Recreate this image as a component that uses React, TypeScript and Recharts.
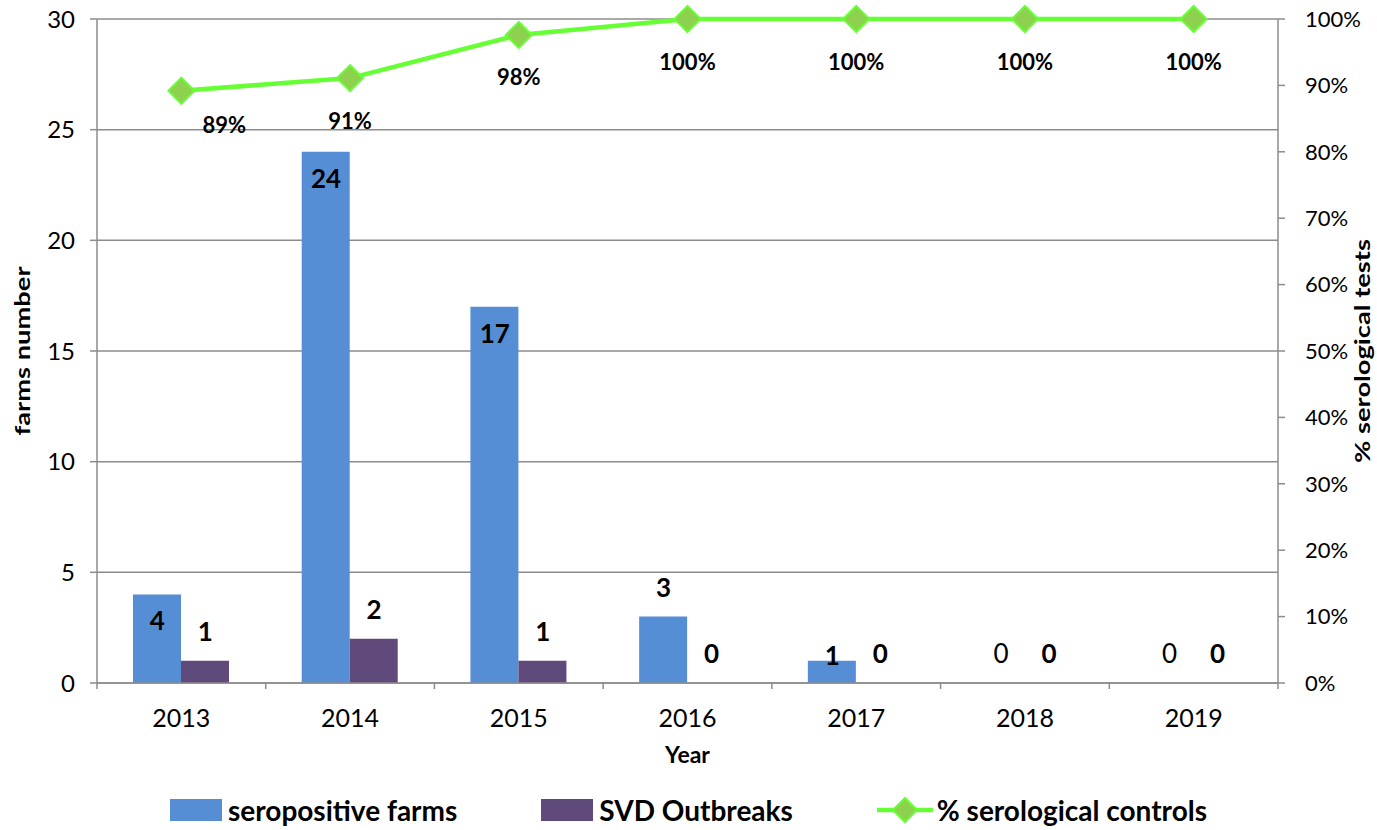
import React from 'react';
import {
  ComposedChart,
  Bar,
  Line,
  XAxis,
  YAxis,
  CartesianGrid,
  Legend,
  LabelList,
} from 'recharts';

const years = ['2013', '2014', '2015', '2016', '2017', '2018', '2019'];
const seropositiveFarms = [4, 24, 17, 3, 1, 0, 0];
const svdOutbreaks = [1, 2, 1, 0, 0, 0, 0];
const serologicalControls = [89.2, 91.1, 97.6, 100, 100, 100, 100];
const leftTicks = [0, 5, 10, 15, 20, 25, 30];
const rightTicks = [0, 10, 20, 30, 40, 50, 60, 70, 80, 90, 100];

const data = years.map((year, i) => ({
  year,
  farms: seropositiveFarms[i],
  svd: svdOutbreaks[i],
  pct: serologicalControls[i],
}));

const FONT = 'Lato, "Open Sans", sans-serif';
const BLUE = '#558ED5';
const PURPLE = '#604A7B';
const GREEN = '#66FF33';
const DIAMOND = '#8DD14F';
const AXIS = '#8c8c8c';

const CHART_W = 1377;
const CHART_H = 830;
const LEFT_W = 97;
const RIGHT_W = 99;
const BAR = 48;
const BAND = (CHART_W - LEFT_W - RIGHT_W) / years.length;

const XTick = (props: any) => {
  const { x, y, payload, index } = props;
  const top = y - 9;
  return (
    <g>
      <line x1={x - BAND / 2} x2={x - BAND / 2} y1={top} y2={top + 7} stroke={AXIS} strokeWidth={1.5} />
      {index === years.length - 1 && (
        <line x1={x + BAND / 2} x2={x + BAND / 2} y1={top} y2={top + 7} stroke={AXIS} strokeWidth={1.5} />
      )}
      <text x={x} y={top + 35} textAnchor="middle" dominantBaseline="central" fontSize={25} fill="#000" fontFamily={FONT}>
        {payload.value}
      </text>
    </g>
  );
};

// rotated axis title, stretched along its length like the original
const RotTitle = ({ viewBox, value, side }: any) => {
  if (!viewBox) return null;
  const cx = side === 'left' ? 22 : CHART_W - 15;
  const cy = viewBox.y + viewBox.height / 2;
  return (
    <text
      transform={`translate(${cx},${cy}) rotate(-90) scale(1.3,1)`}
      textAnchor="middle"
      dominantBaseline="central"
      fontSize={21}
      fontWeight={700}
      fill="#000"
      fontFamily={FONT}
    >
      {value}
    </text>
  );
};

const Diamond = (props: any) => {
  const { cx, cy } = props;
  if (cx == null || cy == null) return null;
  const r = 13;
  return (
    <polygon
      points={`${cx},${cy - r} ${cx + r},${cy} ${cx},${cy + r} ${cx - r},${cy}`}
      fill={DIAMOND}
      stroke={GREEN}
      strokeWidth={2}
    />
  );
};

const FarmsLabel = (props: any) => {
  const { x, y, value } = props;
  let cy = y - 30;
  if (value >= 4) cy = y + 26;
  else if (value === 1) cy = y - 6;
  return (
    <text x={x - BAR / 2} y={cy} textAnchor="middle" dominantBaseline="central" fontSize={26}
      fontWeight={value === 0 ? 400 : 700} fill="#000" fontFamily={FONT}>
      {value}
    </text>
  );
};

const SvdLabel = (props: any) => {
  const { x, y, value } = props;
  return (
    <text x={x + BAR / 2} y={y - 30} textAnchor="middle" dominantBaseline="central" fontSize={26}
      fontWeight={700} fill="#000" fontFamily={FONT}>
      {value}
    </text>
  );
};

const PctLabel = (props: any) => {
  const { x, y, value, index } = props;
  const dx = index === 0 ? 43 : 0;
  const dy = index === 0 ? 34 : 42;
  return (
    <text x={x + dx} y={y + dy} textAnchor="middle" dominantBaseline="central" fontSize={22}
      fontWeight={700} fill="#000" fontFamily={FONT}>
      {Math.round(value)}%
    </text>
  );
};

const LegendContent = () => {
  const text = { fontSize: 28, lineHeight: '32px', fontWeight: 700, fontFamily: FONT, color: '#000', marginLeft: 6 };
  return (
    <div style={{ display: 'flex', justifyContent: 'center', alignItems: 'center', gap: 84, height: 40 }}>
      <div style={{ display: 'flex', alignItems: 'center' }}>
        <span style={{ width: 52, height: 22, background: BLUE, display: 'inline-block' }} />
        <span style={text}>seropositive farms</span>
      </div>
      <div style={{ display: 'flex', alignItems: 'center' }}>
        <span style={{ width: 52, height: 22, background: PURPLE, display: 'inline-block' }} />
        <span style={text}>SVD Outbreaks</span>
      </div>
      <div style={{ display: 'flex', alignItems: 'center' }}>
        <svg width={56} height={28}>
          <line x1={0} x2={56} y1={14} y2={14} stroke={GREEN} strokeWidth={4.5} />
          <polygon points="28,2 40,14 28,26 16,14" fill={DIAMOND} stroke={GREEN} strokeWidth={2} />
        </svg>
        <span style={{ ...text, marginLeft: 4 }}>% serological controls</span>
      </div>
    </div>
  );
};

export default function App() {
  return (
    <div style={{ position: 'absolute', left: 0, top: 0, width: CHART_W, height: CHART_H, background: '#fff' }}>
      <ComposedChart
        width={CHART_W}
        height={CHART_H}
        data={data}
        margin={{ top: 19, right: 0, bottom: 0, left: 0 }}
        barGap={0}
      >
        <CartesianGrid yAxisId="left" vertical={false} stroke={AXIS} strokeWidth={1.5} />
        <XAxis
          dataKey="year"
          height={107}
          tickLine={false}
          axisLine={{ stroke: AXIS, strokeWidth: 1.5 }}
          tick={<XTick />}
          label={{ value: 'Year', position: 'insideTop', offset: 64, fontSize: 23, fontWeight: 700, fill: '#000', fontFamily: FONT }}
        />
        <YAxis
          yAxisId="left"
          width={LEFT_W}
          domain={[0, 30]}
          ticks={leftTicks}
          tickSize={7}
          tickMargin={15}
          axisLine={{ stroke: AXIS, strokeWidth: 1.5 }}
          tickLine={{ stroke: AXIS, strokeWidth: 1.5 }}
          tick={{ fontSize: 24, fill: '#000', fontFamily: FONT }}
          label={<RotTitle value="farms number" side="left" />}
        />
        <YAxis
          yAxisId="right"
          orientation="right"
          width={RIGHT_W}
          domain={[0, 100]}
          ticks={rightTicks}
          tickFormatter={(v: number) => `${v}%`}
          tickSize={7}
          tickMargin={20}
          axisLine={{ stroke: AXIS, strokeWidth: 1.5 }}
          tickLine={{ stroke: AXIS, strokeWidth: 1.5 }}
          tick={{ fontSize: 22, fill: '#000', fontFamily: FONT }}
          label={<RotTitle value="% serological tests" side="right" />}
        />
        <Legend verticalAlign="bottom" height={40} content={<LegendContent />} />
        <Bar yAxisId="left" dataKey="farms" name="seropositive farms" fill={BLUE} barSize={BAR} isAnimationActive={false} />
        <Bar yAxisId="left" dataKey="svd" name="SVD Outbreaks" fill={PURPLE} barSize={BAR} isAnimationActive={false} />
        {/* invisible carriers for bar value labels, so zero values still get a label */}
        <Line yAxisId="left" dataKey="farms" stroke="none" dot={false} activeDot={false} isAnimationActive={false} legendType="none">
          <LabelList dataKey="farms" content={<FarmsLabel />} />
        </Line>
        <Line yAxisId="left" dataKey="svd" stroke="none" dot={false} activeDot={false} isAnimationActive={false} legendType="none">
          <LabelList dataKey="svd" content={<SvdLabel />} />
        </Line>
        <Line
          yAxisId="right"
          type="linear"
          dataKey="pct"
          name="% serological controls"
          stroke={GREEN}
          strokeWidth={4.5}
          dot={<Diamond />}
          activeDot={false}
          isAnimationActive={false}
        >
          <LabelList dataKey="pct" content={<PctLabel />} />
        </Line>
      </ComposedChart>
    </div>
  );
}
